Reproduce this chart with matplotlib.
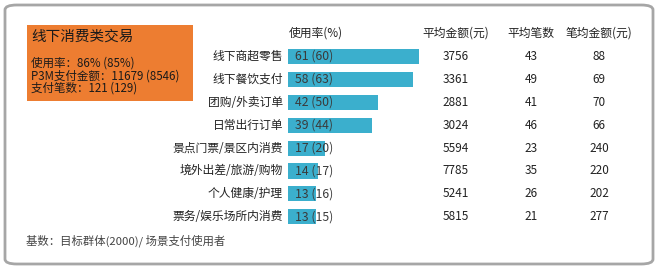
import matplotlib
matplotlib.use("Agg")
import matplotlib.pyplot as plt
from matplotlib.patches import FancyBboxPatch, Rectangle

plt.rcParams['font.family'] = ['Noto Sans CJK SC', 'DejaVu Sans']

categories = ["线下商超零售", "线下餐饮支付", "团购/外卖订单", "日常出行订单",
              "景点门票/景区内消费", "境外出差/旅游/购物", "个人健康/护理", "票务/娱乐场所内消费"]
usage = [61, 58, 42, 39, 17, 14, 13, 13]
usage_prev = [60, 63, 50, 44, 20, 17, 16, 15]
avg_amount = [3756, 3361, 2881, 3024, 5594, 7785, 5241, 5815]
avg_count = [43, 49, 41, 46, 23, 35, 26, 21]
per_txn = [88, 69, 70, 66, 240, 220, 202, 277]
col_headers = ["平均金额(元)", "平均笔数", "笔均金额(元)"]
box_title = "线下消费类交易"
box_lines = ["使用率：86% (85%)", "P3M支付金额：11679 (8546)", "支付笔数：121 (129)"]
footer = "基数：目标群体(2000)/ 场景支付使用者"

W, H = 658, 270
fig = plt.figure(figsize=(W / 100, H / 100), dpi=100)

def fx(x):
    return x / W

def fy(y):
    return 1 - y / H

# outer rounded border
fig.patches.append(FancyBboxPatch((fx(5), fy(264)), fx(648), 259 / H,
                                  boxstyle="round,pad=0,rounding_size=0.018",
                                  transform=fig.transFigure, facecolor="white",
                                  edgecolor="#A6A6A6", linewidth=2, zorder=-2))

# orange box
fig.patches.append(Rectangle((fx(27), fy(101)), fx(166), 76 / H,
                             transform=fig.transFigure, facecolor="#ED7D31",
                             edgecolor="none", zorder=-1))
fig.text(fx(31), fy(37), box_title, fontsize=10.5, va="center", ha="left", color="#1a1a1a")
for i, line in enumerate(box_lines):
    fig.text(fx(31), fy(63 + i * 12.7), line, fontsize=8.3, va="center", ha="left", color="#1a1a1a")

# bar axes
row0, step = 56.5, 22.9
top = row0 - step / 2
height = step * len(categories)
unit_px = (419 - 288) / 61.0
ax = fig.add_axes([fx(288), fy(top + height), fx(unit_px * 100), height / H])
ax.set_zorder(5)
ax.patch.set_visible(False)
ypos = list(range(len(categories)))
ax.barh(ypos, usage, height=0.66, color="#3BAFCD", zorder=2)
ax.set_xlim(0, 100)
ax.set_ylim(len(categories) - 0.5, -0.5)
ax.axis("off")
for i in ypos:
    ax.text(3.3, i, f"{usage[i]} ({usage_prev[i]})", fontsize=8.8, va="center", ha="left",
            color="#3a3a3a", zorder=3)

# category labels
for i, c in enumerate(categories):
    fig.text(fx(283), fy(row0 + i * step), c, fontsize=8.5, va="center", ha="right", color="#222222")

# headers
fig.text(fx(289), fy(33), "使用率(%)", fontsize=8.5, va="center", ha="left", color="#222222")
col_x = [456, 531, 599]
for cx, h in zip(col_x, col_headers):
    fig.text(fx(cx), fy(33), h, fontsize=8.5, va="center", ha="center", color="#222222")
for i in ypos:
    for cx, v in zip(col_x, [avg_amount[i], avg_count[i], per_txn[i]]):
        fig.text(fx(cx), fy(row0 + i * step), str(v), fontsize=8.5, va="center", ha="center",
                 color="#222222")

fig.text(fx(26), fy(241), footer, fontsize=8.2, va="center", ha="left", color="#444444")

fig.savefig("out.png", dpi=100)
